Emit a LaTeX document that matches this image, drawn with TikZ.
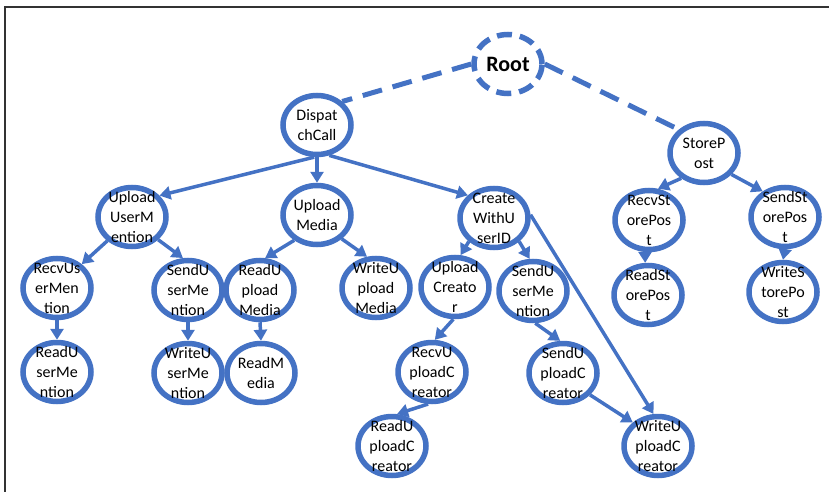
\documentclass[tikz,border=0pt]{standalone}
\usepackage{fontspec}
\setmainfont{Carlito}
\usetikzlibrary{shapes.geometric,arrows.meta}
\definecolor{CallBlue}{RGB}{68,114,196}

\begin{document}
\begin{tikzpicture}[
  x=1pt, y=-1pt,
  task/.style={ellipse, draw=CallBlue, fill=white, line width=5.5pt, minimum width=68pt, minimum height=59pt, inner sep=0pt},
  tasktext/.style={font=\fontsize{16}{20}\selectfont, align=center, inner sep=0pt},
  roottask/.style={task, dash pattern=on 15pt off 8pt},
  call/.style={-{Triangle[length=11pt,width=13pt]}, line width=3.5pt, CallBlue},
  rootcall/.style={line width=5pt, CallBlue, dash pattern=on 20pt off 11pt}
]
\useasboundingbox (0,0) rectangle (829,492);
\draw[line width=1.5pt, black!80] (5,492) -- (5,7) -- (829,7);

% top level
\node[roottask, label={[tasktext, font=\fontsize{22}{24}\selectfont\bfseries]center:Root}] (root) at (508,64) {};
\node[task, label={[tasktext]center:Dispat\\chCall}] (disp) at (317,125) {};
\node[task, label={[tasktext]center:StoreP\\ost}] (store) at (704,153) {};

% second level
\node[task, label={[tasktext]center:Upload\\UserM\\ention}] (uum) at (132,217) {};
\node[task, label={[tasktext]center:Upload\\Media}] (um) at (317,215) {};
\node[task, label={[tasktext]center:Create\\WithU\\serID}] (cw) at (494,218) {};
\node[task, label={[tasktext]center:RecvSt\\orePos\\t}] (rsp) at (649,220) {};
\node[task, label={[tasktext]center:SendSt\\orePos\\t}] (ssp) at (785,217) {};

% third level
\node[task, label={[tasktext]center:RecvUs\\erMen\\tion}] (rvum) at (57,288) {};
\node[task, label={[tasktext]center:SendU\\serMe\\ntion}] (sdum) at (188,290) {};
\node[task, label={[tasktext]center:ReadU\\pload\\Media}] (rum) at (260,290) {};
\node[task, label={[tasktext]center:WriteU\\pload\\Media}] (wum) at (376,288) {};
\node[task, label={[tasktext]center:Upload\\Creato\\r}] (uc) at (455,287) {};
\node[task, label={[tasktext]center:SendU\\serMe\\ntion}] (sdum2) at (533,291) {};
\node[task, label={[tasktext]center:ReadSt\\orePos\\t}] (readsp) at (648,295) {};
\node[task, label={[tasktext]center:WriteS\\torePo\\st}] (writesp) at (783,292) {};

% fourth level
\node[task, label={[tasktext]center:ReadU\\serMe\\ntion}] (readum) at (57,372) {};
\node[task, label={[tasktext]center:WriteU\\serMe\\ntion}] (writeum) at (188,373) {};
\node[task, label={[tasktext]center:ReadM\\edia}] (readm) at (261,373) {};
\node[task, label={[tasktext]center:RecvU\\ploadC\\reator}] (rvuc) at (432,372) {};
\node[task, label={[tasktext]center:SendU\\ploadC\\reator}] (sduc) at (563,373) {};

% fifth level
\node[task, label={[tasktext]center:ReadU\\ploadC\\reator}] (readuc) at (392,446) {};
\node[task, label={[tasktext]center:WriteU\\ploadC\\reator}] (writeuc) at (658,446) {};

\draw[rootcall] (root.180) -- (disp.43);
\draw[rootcall] (root.0) -- (store.137);

\draw[call] (disp.-95) -- (uum.38);
\draw[call] (disp.south) -- (um.north);
\draw[call] (disp.-68) -- (cw.139);
\draw[call] (store.-132) -- (rsp.74);
\draw[call] (store.-38) -- (ssp.131);
\draw[call] (uum.-136) -- (rvum.44);
\draw[call] (uum.-41) -- (sdum.99);
\draw[call] (um.-132) -- (rum.81);
\draw[call] (um.-44) -- (wum.106);
\draw[call] (cw.-137) -- (uc.80);
\draw[call] (cw.-43) -- (sdum2.96);
\draw[call] (cw.5) -- (writeuc.98);
\draw[call] (rsp.-97) -- (readsp.95);
\draw[call] (ssp.south) -- (writesp.north);
\draw[call] (rvum.south) -- (readum.north);
\draw[call] (sdum.south) -- (writeum.north);
\draw[call] (rum.south) -- (readm.north);
\draw[call] (uc.-93) -- (rvuc.85);
\draw[call] (sdum2.-86) -- (sduc.95);
\draw[call] (rvuc.-97) -- (readuc.81);
\draw[call] (sduc.-39) -- (writeuc.137);
\end{tikzpicture}
\end{document}
